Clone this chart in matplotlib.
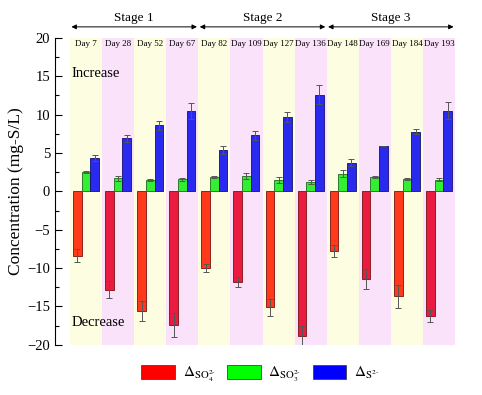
import numpy as np
import matplotlib
matplotlib.use('Agg')
import matplotlib.pyplot as plt
from matplotlib.patches import Patch

plt.rcParams['font.family'] = ['Liberation Serif', 'DejaVu Serif']
plt.rcParams['mathtext.fontset'] = 'stix'

days = ['Day 7', 'Day 28', 'Day 52', 'Day 67', 'Day 82', 'Day 109',
        'Day 127', 'Day 136', 'Day 148', 'Day 169', 'Day 184', 'Day 193']
stages = ['Stage 1', 'Stage 2', 'Stage 3']

so4 = [-8.4, -12.8, -15.6, -17.4, -10.0, -11.8, -15.1, -18.8, -7.8, -11.4, -13.7, -16.2]
so4_err = [0.85, 1.1, 1.3, 1.6, 0.5, 0.6, 1.1, 1.3, 0.8, 1.3, 1.45, 0.8]
so3 = [2.5, 1.7, 1.5, 1.6, 1.85, 2.0, 1.5, 1.25, 2.3, 1.85, 1.6, 1.5]
so3_err = [0.15, 0.3, 0.1, 0.2, 0.15, 0.35, 0.35, 0.25, 0.45, 0.1, 0.08, 0.2]
s2 = [4.3, 6.9, 8.6, 10.5, 5.4, 7.3, 9.7, 12.6, 3.75, 5.9, 7.8, 10.5]
s2_err = [0.4, 0.5, 0.6, 1.05, 0.5, 0.6, 0.7, 1.2, 0.45, 0.05, 0.3, 1.1]

band_colors = ['#fdfde2', '#fbe2fb']
so4_colors = ['#ff3a1a', '#ea1a40']

fig = plt.figure(figsize=(4.82, 3.95), dpi=100)
ax = fig.add_axes([0.114, 0.127, 0.83, 0.777])

x = np.arange(len(days))
w = 0.27

# background bands for each sampling day
for i in x:
    ax.axvspan(i - 0.5, i + 0.5, color=band_colors[i % 2], lw=0, zorder=0)

err_kw = dict(ecolor='#555555', elinewidth=0.7, capsize=2.5, capthick=0.7)
ax.bar(x - w, so4, w, yerr=so4_err, color=[so4_colors[i % 2] for i in x],
       edgecolor='#7a1010', linewidth=0.6, error_kw=err_kw, zorder=2)
ax.bar(x, so3, w, yerr=so3_err, color='#33ee33', edgecolor='#1a6a1a',
       linewidth=0.6, error_kw=err_kw, zorder=2)
ax.bar(x + w, s2, w, yerr=s2_err, color='#2a2aee', edgecolor='#101070',
       linewidth=0.6, error_kw=err_kw, zorder=2)

for i, d in enumerate(days):
    ax.text(i, 19.2, d, ha='center', va='center', fontsize=6.5)

# stage arrows above the plot
for k, st in enumerate(stages):
    x0 = 4 * k - 0.5
    x1 = 4 * k + 3.5
    ax.annotate('', xy=(x1, 1.036), xytext=(x0, 1.036),
                xycoords=('data', 'axes fraction'),
                arrowprops=dict(arrowstyle='<|-|>', color='black', lw=0.7,
                                mutation_scale=7, shrinkA=1, shrinkB=1))
    ax.text((x0 + x1) / 2, 1.045, st, transform=ax.get_xaxis_transform(),
            ha='center', va='bottom', fontsize=9.5)

ax.text(-0.45, 15.4, 'Increase', ha='left', va='center', fontsize=10.5)
ax.text(-0.45, -17.1, 'Decrease', ha='left', va='center', fontsize=10.5)

ax.set_xlim(-0.97, 11.5)
ax.set_ylim(-20, 20)
ax.set_yticks(np.arange(-20, 21, 5))
ax.set_yticks(np.arange(-20, 21, 2.5), minor=True)
ax.tick_params(axis='y', which='major', direction='in', length=5, width=0.8, labelsize=10.5)
ax.tick_params(axis='y', which='minor', direction='in', length=3, width=0.8)
ax.set_xticks([])
for sp in ['top', 'right', 'bottom']:
    ax.spines[sp].set_visible(False)
ax.spines['left'].set_linewidth(0.8)
ax.set_ylabel('Concentration (mg-S/L)', fontsize=12.5, labelpad=2)

handles = [Patch(facecolor='#ff0000', edgecolor='#444444', lw=0.6),
           Patch(facecolor='#00ff00', edgecolor='#444444', lw=0.6),
           Patch(facecolor='#0000ff', edgecolor='#444444', lw=0.6)]
labels = [r'$\Delta_{\mathrm{SO}_4^{2\text{-}}}$', r'$\Delta_{\mathrm{SO}_3^{2\text{-}}}$',
          r'$\Delta_{\mathrm{S}^{2\text{-}}}$']
fig.legend(handles, labels, loc='center', bbox_to_anchor=(0.54, 0.052), ncol=3,
           frameon=False, fontsize=11, handlelength=2.2, handleheight=1.1,
           columnspacing=0.75, handletextpad=0.5)

fig.savefig('out.png', dpi=100)
